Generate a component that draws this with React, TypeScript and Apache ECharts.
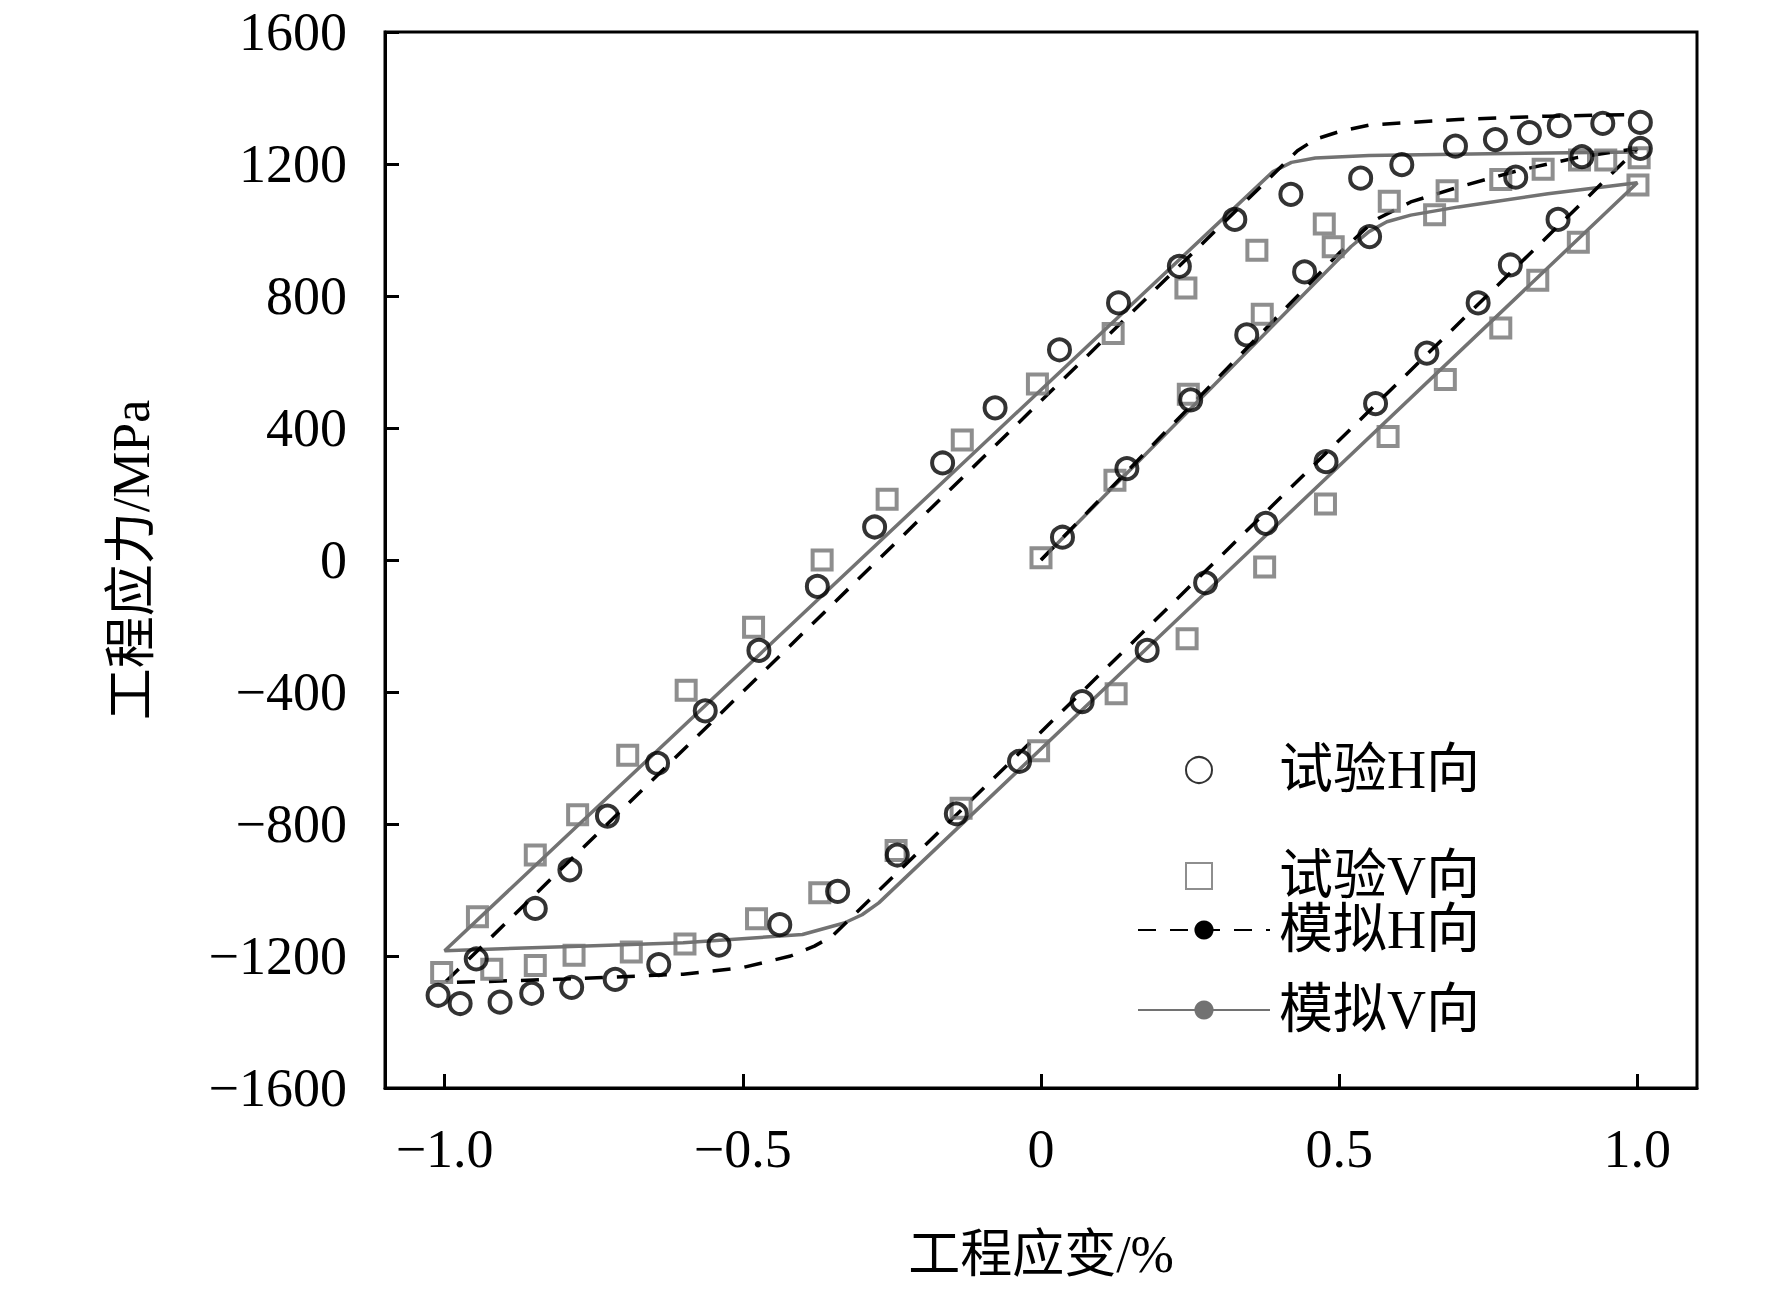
import { useEffect, useRef } from 'react';
import * as echarts from 'echarts';

// 试验H向 (strain %, stress MPa)
const testH: number[][] = [
  [0.036, 69], [0.144, 277], [0.251, 485], [0.345, 682], [0.442, 873], [0.551, 980],
  [0.419, 1108], [0.536, 1157], [0.605, 1198], [0.695, 1254], [0.762, 1274], [0.819, 1295],
  [0.869, 1316], [0.942, 1323], [1.005, 1326], [1.005, 1247], [0.907, 1222], [0.796, 1160],
  [0.867, 1032], [0.787, 894], [0.733, 779], [0.647, 627], [0.561, 474], [0.478, 298],
  [0.377, 111], [0.276, -69], [0.178, -274], [0.069, -429], [-0.036, -610], [-0.142, -769],
  [-0.241, -894], [-0.341, -1004], [-0.438, -1105], [-0.540, -1167], [-0.641, -1226],
  [-0.714, -1271], [-0.787, -1295], [-0.854, -1313], [-0.907, -1340], [-0.974, -1344],
  [-1.011, -1319], [-0.947, -1209], [-0.848, -1056], [-0.790, -939], [-0.727, -776],
  [-0.643, -616], [-0.563, -457], [-0.473, -274], [-0.375, -80], [-0.279, 100], [-0.165, 294],
  [-0.077, 461], [0.031, 637], [0.130, 779], [0.232, 890], [0.325, 1032],
];

// 试验V向
const testV: number[][] = [
  [0, 7], [0.124, 242], [0.247, 502], [0.371, 745], [0.475, 1018], [0.490, 949],
  [0.584, 1087], [0.660, 1046], [0.681, 1119], [0.771, 1153], [0.842, 1184], [0.903, 1212],
  [0.947, 1212], [1.003, 1219], [1.001, 1136], [0.901, 963], [0.833, 848], [0.771, 703],
  [0.678, 547], [0.582, 374], [0.477, 170], [0.375, -21], [0.245, -239], [0.126, -405],
  [-0.004, -578], [-0.134, -752], [-0.243, -880], [-0.371, -1008], [-0.477, -1087],
  [-0.597, -1164], [-0.687, -1188], [-0.783, -1198], [-0.848, -1229], [-0.921, -1240],
  [-1.005, -1250], [-0.945, -1081], [-0.848, -894], [-0.777, -772], [-0.693, -592],
  [-0.595, -395], [-0.482, -204], [-0.367, 0], [-0.258, 184], [-0.132, 364], [-0.006, 533],
  [0.121, 686], [0.243, 824], [0.362, 939],
];

// 模拟H向
const simH: number[][] = [
  [0, 0], [0.5, 930], [0.56, 1030], [0.62, 1085], [0.7, 1130], [0.8, 1180], [0.9, 1220], [1.0, 1247],
  [0.9, 1070], [-0.35, -1140], [-0.38, -1170], [-0.42, -1200], [-0.5, -1235], [-0.6, -1255],
  [-0.8, -1270], [-1.0, -1281],
  [0.43, 1240], [0.46, 1275], [0.5, 1298], [0.55, 1318], [0.7, 1335], [0.85, 1345], [1.0, 1350],
];

// 模拟V向
const simV: number[][] = [
  [0, 0], [0.52, 950], [0.55, 995], [0.58, 1025], [0.62, 1045], [0.7, 1070], [0.85, 1110], [1.0, 1143],
  [-0.272, -1039], [-0.3, -1075], [-0.33, -1100], [-0.4, -1135], [-0.6, -1160], [-0.8, -1172], [-1.0, -1184],
  [0.389, 1177], [0.42, 1205], [0.46, 1218], [0.55, 1226], [0.75, 1231], [1.0, 1236],
];

const xTicks = [-1.0, -0.5, 0, 0.5, 1.0];
const seriesNames = ['试验H向', '试验V向', '模拟H向', '模拟V向'];

const GRAY = '#727272';
const FONT = '"Liberation Serif", "Noto Sans CJK SC", serif';
const SQUARE = 'path://M0,0H10V10H0Z';

function fmt(v: number, digits: number) {
  if (v === 0) return '0';
  const s = Math.abs(v).toFixed(digits);
  return v < 0 ? '\u2212' + s : s;
}

export default function App() {
  const ref = useRef<HTMLDivElement>(null);

  useEffect(() => {
    if (!ref.current) return;
    const chart = echarts.init(ref.current, undefined, { renderer: 'svg' });

    const legendText = { fontSize: 54, color: '#000', fontFamily: FONT };

    const option: echarts.EChartsOption = {
      animation: false,
      backgroundColor: '#fff',
      textStyle: { fontFamily: FONT },
      grid: {
        left: 385, right: 75, top: 32, bottom: 203,
        show: true, borderColor: '#000', borderWidth: 3, backgroundColor: 'transparent',
      },
      xAxis: {
        type: 'value', min: -1.1, max: 1.1,
        name: '工程应变/%', nameLocation: 'middle', nameGap: 140,
        nameTextStyle: { fontSize: 52, color: '#000', fontFamily: FONT },
        axisLine: { onZero: false, lineStyle: { color: '#000', width: 3 } },
        axisTick: { inside: true, length: 14, customValues: xTicks, lineStyle: { width: 3, color: '#000' } },
        axisLabel: {
          customValues: xTicks, margin: 34, fontSize: 54, color: '#000', fontFamily: FONT,
          formatter: (v: number) => fmt(v, 1),
        },
        splitLine: { show: false },
      },
      yAxis: {
        type: 'value', min: -1600, max: 1600, interval: 400,
        name: '工程应力/MPa', nameLocation: 'middle', nameGap: 228,
        nameTextStyle: { fontSize: 52, color: '#000', fontFamily: FONT },
        axisLine: { onZero: false, lineStyle: { color: '#000', width: 3 } },
        axisTick: { inside: true, length: 14, lineStyle: { width: 3, color: '#000' } },
        axisLabel: {
          margin: 38, fontSize: 54, color: '#000', fontFamily: FONT,
          formatter: (v: number) => fmt(v, 0),
        },
        splitLine: { show: false },
      },
      legend: [
        {
          orient: 'vertical', left: 1180, top: 738, itemGap: 52,
          itemWidth: 26, itemHeight: 26, symbolKeepAspect: true,
          textStyle: { ...legendText, padding: [0, 0, 0, 62] },
          data: [
            { name: seriesNames[0], icon: 'circle' },
            { name: seriesNames[1], icon: SQUARE },
          ],
        },
        {
          orient: 'vertical', left: 1132, top: 898, itemGap: 26,
          itemWidth: 132, itemHeight: 24,
          textStyle: { ...legendText, padding: [0, 0, 0, 4] },
          data: [seriesNames[2], seriesNames[3]],
        },
      ],
      series: [
        {
          name: seriesNames[0], type: 'scatter', data: testH, symbol: 'circle', symbolSize: 21, z: 4,
          itemStyle: { color: 'transparent', borderColor: '#000', borderWidth: 4 },
        },
        {
          name: seriesNames[1], type: 'scatter', data: testV, symbol: 'rect', symbolSize: 19, z: 3,
          itemStyle: { color: 'transparent', borderColor: GRAY, borderWidth: 4 },
        },
        {
          name: seriesNames[2], type: 'line', data: simH, symbol: 'none', z: 2,
          lineStyle: { color: '#000', width: 3.5, type: [18, 14] },
          itemStyle: { color: '#000' },
        },
        {
          name: seriesNames[3], type: 'line', data: simV, symbol: 'none', z: 1,
          lineStyle: { color: GRAY, width: 3.5 },
          itemStyle: { color: GRAY },
        },
      ],
    };

    chart.setOption(option);
    return () => chart.dispose();
  }, []);

  return <div ref={ref} style={{ position: 'absolute', left: 0, top: 0, width: 1772, height: 1291 }} />;
}
